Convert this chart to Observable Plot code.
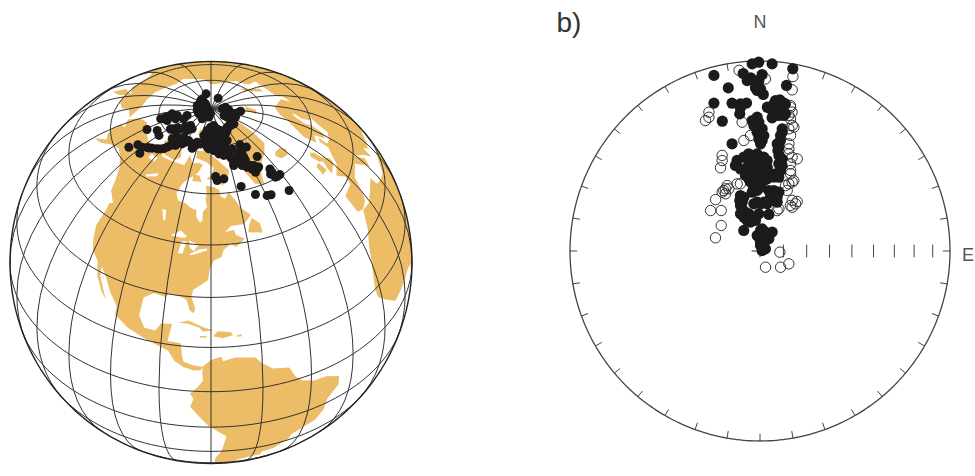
<!DOCTYPE html><html><head><meta charset="utf-8">
<style>html,body{margin:0;background:#fff;overflow:hidden}#chart{position:relative;width:975px;height:476px}#chart svg{position:absolute;top:0;background:transparent;max-width:none}</style>
<script src="https://cdn.jsdelivr.net/npm/d3@7"></script>
<script src="https://cdn.jsdelivr.net/npm/@observablehq/plot@0.6"></script>
</head><body><div id="chart"></div>
<script>
// ---- land outlines [lon, lat] ----
const northAmerica=[[-168,65.6],[-166,68.3],[-162,70.3],[-156.5,71.3],[-150,70.5],[-141,69.7],[-135,69],[-128,70],[-120,69.5],[-115,68],[-108,68],[-100,68],[-96,68],[-94,71.5],[-90,69],[-85,69.5],[-81.5,69],[-84,66.5],[-87,65],[-90,64],[-93,62],[-94.5,59],[-92.5,57],[-88,56.5],[-85,55.3],[-82.3,55],[-82,52.9],[-80,51.3],[-79,52],[-79,54.5],[-77,56],[-78,58.5],[-77.5,60],[-78,62.4],[-73,62],[-70,61],[-69.5,59],[-67,58.3],[-65,60.3],[-62,57.5],[-60,55],[-56,52.5],[-58,51.4],[-60,50.2],[-66,50.2],[-69,48.5],[-65,49],[-64.5,47.5],[-61,46],[-65,44],[-67,45],[-70,43.5],[-71,41.5],[-74,40.5],[-75.5,38],[-76,35],[-78,33.8],[-81,32],[-81.5,30],[-80,26.5],[-80.5,25.2],[-81.8,26],[-83,29],[-85,29.7],[-89,30.2],[-90,29],[-94,29.5],[-97.2,27.5],[-97.7,22],[-95.5,18.7],[-92,18.6],[-90.5,21],[-87,21.5],[-88,16],[-84,15.8],[-83.5,12],[-83,10],[-80,9],[-77.5,8.7],[-78,7.5],[-80,7.3],[-83,8.3],[-85.7,10],[-87.6,13],[-92,14.5],[-96,15.8],[-101,17.5],[-105.5,20],[-105.5,22.5],[-109,26],[-112.5,30],[-114.7,31.7],[-114,29],[-111,25],[-109.5,23],[-112,25],[-115,28.5],[-117,32.5],[-120.5,34.5],[-122.5,37.5],[-124.2,41],[-124,46],[-124.5,48.4],[-123,49],[-128,51.5],[-130,54.5],[-134,58],[-140,60],[-146,61],[-152,59.5],[-158,56.5],[-164,54.6],[-158,58.5],[-162,59],[-165,61],[-165,63.5],[-161,64.5]];
const southAmerica=[[-77.5,8.7],[-75,11],[-72,12],[-71.5,10.5],[-68,11.5],[-62,10.7],[-60,8.5],[-57,6],[-52,5],[-50,1],[-48,-1],[-44,-2.7],[-40,-3],[-35.2,-5.5],[-35,-9],[-38.5,-13],[-39,-18],[-41,-22],[-45,-24],[-48.5,-26],[-49,-29],[-53,-34],[-57,-35],[-57,-38],[-62,-39],[-65,-41],[-65,-45],[-68,-50],[-68.5,-53],[-65,-55],[-72,-54.5],[-75,-50],[-73.5,-42],[-73.5,-37],[-71.5,-30],[-70.3,-20],[-76,-14],[-81,-6],[-80,-3],[-81,-1],[-78.5,2],[-77.3,4],[-77.5,7]];
const africa=[[-6,35.8],[-1,35.2],[10,37.3],[11,34],[15,32.5],[20,31],[25,32],[32,31],[34.5,28],[37,21],[39,15],[43,12],[51,12],[48,5],[42,-2],[39,-6],[40.5,-15],[35,-24],[32,-29],[26,-34],[20,-34.8],[18,-33],[15,-27],[12,-17],[13.5,-9],[9,-1],[9.5,4],[5,6],[-4,5],[-8,4.5],[-13,8.5],[-16.8,12],[-17.3,15],[-16,20],[-13,27],[-9.5,31]];
const eurasia=[[-9,37],[-9,43],[-2,43.5],[-1,46],[-4.5,48.5],[1.5,50],[4,52],[8,54],[8.2,57],[10.5,57.5],[10,54.5],[14,54],[19,54.5],[21,57],[24,59.3],[30,60],[23,60],[21.5,63],[25,65.5],[22,65.5],[17.5,62],[18.5,60],[16,56],[13,55.5],[11,59],[6,58],[5,62],[13,67],[20,70],[28,71],[40,67.5],[38,64.5],[44,66],[44,68],[54,69],[60,69],[68,68.5],[67,72],[73,73],[80,73],[87,75],[100,77.5],[105,77.5],[113,74],[130,71],[140,72.5],[160,70],[170,69.5],[180,69],[-170,66],[180,65],[178,62.5],[170,60],[163,60],[162,57],[156,51],[156,57],[163,62],[155,59],[142,59],[135,54.5],[140,50],[130,42],[122,35],[120,25],[100,10],[80,8],[60,25],[50,30],[36,36],[27,37],[24,40],[23,36.5],[20,40],[13,45.5],[18,40],[16,38],[10,44],[3,43],[0,39],[-2,36.7],[-6,36]];
const greenland=[[-73,78.2],[-68,76],[-58,75.5],[-54,70],[-51,65],[-48,61],[-43,60],[-40,65],[-30,68],[-22,70.5],[-20,75],[-18,80],[-30,83.5],[-45,82.5],[-60,82],[-66,80.8]];
const baffin=[[-80,73.5],[-72,71.5],[-68,70],[-62,67],[-64,63.5],[-68,62.5],[-72,64],[-78,64.5],[-74,66],[-73,68],[-79,70],[-88,71],[-89,73.5]];
const victoria=[[-117,69],[-105,68.5],[-101,70],[-105,73],[-115,73],[-118,71]];
const banks=[[-125,72],[-118,72],[-116,74],[-122,74.5]];
const ellesmere=[[-90,76.5],[-78,76.5],[-76,78.5],[-65,81.5],[-63,82.5],[-75,83],[-90,81.8],[-85,79]];
const devon=[[-92,74.5],[-80,74.5],[-82,76],[-92,76.5]];
const axelHeiberg=[[-95,79],[-87,79],[-88,81],[-95,81]];
const melville=[[-117,75],[-106,75],[-106,76.5],[-116,76.5]];
const southampton=[[-87,63.5],[-81,63.5],[-83,65.5],[-87,65.5]];
const newfoundland=[[-59,47.7],[-53,46.7],[-53,49.5],[-56,51.5],[-58,49.5]];
const iceland=[[-24,65.5],[-22,64],[-16,63.5],[-13.5,65],[-16,66.5],[-22,66.5]];
const britain=[[-5.5,50],[1,51.2],[1.5,52.8],[-1.5,55],[-2,57.5],[-3.5,58.6],[-6,58],[-5,55],[-3,54],[-5,52]];
const ireland=[[-10,52],[-6,52],[-6,55],[-9,55]];
const svalbard=[[12,77],[20,77],[27,80],[15,80]];
const novayaZemlya=[[52,71],[57,71],[68,76.5],[60,76]];
const cuba=[[-85,22],[-82,23],[-77,21],[-74.2,20.2],[-77.5,19.9],[-78.5,21],[-82,22]];
const hispaniola=[[-74.4,18.5],[-73,20],[-69,19.6],[-68.4,18.5],[-71.5,17.8]];
const puertoRico=[[-67.2,18],[-65.7,18],[-65.7,18.5],[-67.2,18.5]];
const jamaica=[[-78.3,18],[-76.3,18],[-76.3,18.5],[-78.3,18.5]];
// ---- lakes ----
const superior=[[-92,46.7],[-88,48.5],[-85,47],[-87,46.5]];
const michigan=[[-87.8,42],[-86,42],[-85,45.7],[-87,45.5]];
const huron=[[-84,46],[-80,45],[-81.7,43],[-83.5,44]];
const erieOntario=[[-83,41.7],[-79,42.8],[-76.5,43.5],[-76.5,44],[-79.5,43.7],[-83,42.2]];
const winnipeg=[[-99,53.5],[-97,53.5],[-96,50.5],[-97,50.5]];
const greatBear=[[-124,67],[-118,67],[-118,65.5],[-124,65.5]];
const greatSlave=[[-117,61],[-110,63],[-110,62],[-116,60.5]];
// ---- virtual geomagnetic poles [lon, lat] ----
const poles=[[116.1,82.8],[82.3,84.7],[153.9,86.7],[-164.2,87],[-120.1,87.8],[-132.9,85.9],[-104.2,85.8],[-110.6,88.9],[25.8,85.8],[-1.6,85.2],[8.2,82],[-9.7,82.3],[-22.9,82.3],[-23.1,85.3],[-154.1,76.2],[-159.6,78.8],[-146.5,79.3],[-154.4,77.7],[-144.5,82.7],[-138.9,81.3],[-148.4,70.6],[-141.2,73],[-134.4,72.5],[-133.5,76.3],[-128.8,78],[-121.4,79.9],[-108.8,80.3],[-141.8,63.6],[-138.9,66.1],[-131.6,64.9],[-131.3,67.6],[-127.7,68.4],[-123.9,69.2],[-119.3,70.4],[-116.3,72.2],[-116,74.4],[-107.1,74.3],[-118.1,75.7],[-104.9,75.2],[-94.8,73.9],[-91.9,76.3],[-83.9,76.6],[-77.3,74.4],[-72.1,73.8],[-78.5,79.8],[-69.8,81],[-66.2,78.5],[-73.5,77.4],[-63.8,76],[-57.8,71],[-47.2,80.1],[-35.4,81.2],[-63.6,73.6],[-59.7,72.3],[-53.2,73.5],[-43.4,74.1],[-39.1,72.5],[-49.3,71.4],[-46.7,69.8],[-53.3,69.4],[-57.3,68.1],[-51.1,67.5],[-45.2,66.7],[-36.4,68.4],[-44.4,64.2],[-40.4,65.3],[-34.3,63.3],[-36,61.9],[-34.5,60.4],[-31.1,60.4],[-71.9,65.3],[-71,64],[-66.5,64.4],[-56.8,61.3],[-50.4,57.9],[-44.6,56.5],[-42.4,56.3],[-32.2,55.1],
[143.2,85.2],[173.8,85.8],[-154.8,86],[-128.6,86.3],[-105.3,85],[165.5,88.7],[-78.5,87.7],[141,87.3],[-162.4,88],[-84.5,86.3],[133.8,84.8],[11.5,84.9],[14.4,86.8],[-22.1,84.2],[-1.1,83.2],[12.1,81.5],[-29.3,82.2],[-27.5,81.1],[-43.3,81.2],[-52.5,79.1],[-82,81],[-76.1,82.3],[-68.4,82.9],[-63,81.5],[-58,80.7],[-85.8,79],[-80.2,77.9],[-70.7,79.2],[-67.3,76.7],[-62.2,77.7],[-75.6,75.6],[-69.9,75.6],[-59.3,76.4],[-54.5,76.7],[-56.4,80],[-59.3,74.6],[-57.1,73.2],[-63.2,71.9],[-67.5,72.6],[-71.9,75],[-155.8,75.3],[-156.2,76.8],[-156.8,78.3],[-154.9,79.2],[-152.9,80.1],[-149.2,76.9],[-132.1,76.7],[-128.3,76.7],[-123.8,78.4],[-113.6,79.1],[-116.1,81.1],[-134.6,66.6],[-129.8,67.8],[-121.5,69.7],[-117.8,71.3],[-120.5,74.3],[-112.1,73],[-114.3,75.4],[-110.6,76.6],[-102.4,76.1],[-96.8,75.4],[-92.4,75.1],[-87.4,75.9],[-79.2,75],[-114.7,73.2],[-53.5,70.6],[-46.3,72.2],[-46.5,71],[-46.8,68.7],[-51.2,68.6],[-56.4,69.2],[-48.1,66.5],[-45.4,65.5],[-42.1,65],[-43,66.3],[-34.4,62.1],[-34.8,61.1],[-33.3,60.3]];
// ---- directions [declination, inclination] ----
const lowerHemisphere=[[359.6,0.7],[357.6,1.6],[3.7,1.5],[10.2,2.9],[345.3,5],[354.6,6.9],[356.9,9.6],[0.7,7.9],[359,13],[1.2,18.7],[349,13.6],[9.1,12.8],[342.7,19.6],[349.3,21.9],[354.8,22.9],[352.2,24.9],[351.6,27.9],[343.8,29.6],[7.5,20.9],[5.4,23.3],[4.2,25.9],[8.3,26.2],[5.2,30.3],[358.8,30.2],[356.6,31.8],[10,28.4],[358.7,35.1],[0.2,38.3],[1.1,41.4],[345.4,41.3],[10.6,36.5],[10.5,40.6],[10.3,43.8],[11.2,47.5],[12.2,51.2],[14.3,54],[11.4,55.9],[353.4,47.3],[358.3,47.6],[2.3,49.1],[345.8,49.3],[344,51.3],[346.6,53.4],[352.7,51.8],[358.1,52.1],[4.9,53.5],[354.2,56.4],[0.4,56.6],[7.7,56.3],[352.1,60],[357.6,61],[3.1,59.5],[357.3,63.9],[12.9,63.3],[17.8,63.4],[11,66.4],[19.4,67.8],[356.7,69],[4.5,69],[340.6,64.7],[339.9,67.7],[337.1,70.4],[334.5,74],[349.7,75.3],[341.8,77],[13.6,73.9],[321.7,78.8],[5.6,80.5],[32.9,80.4],[355.2,84.1],[36,83.6],[28.1,86.5],[77,89.1],
[350.2,48.5],[355.1,49.7],[0.3,50.6],[356,52],[351.1,53.9],[356.9,54.3],[2.7,55.1],[4.5,50.5],[349.1,56.7],[351.2,58.5],[356.4,58.8],[1.7,58.1],[5.7,58.7],[354.5,62.4],[0.4,62.5],[352.4,64.5],[10.3,35],[10.1,38.2],[9.1,42.4],[10.1,45.3],[13.5,48.7],[14.5,51.6],[10.6,57.5],[14.3,57.1],[357.2,34.2],[359.5,32.7],[1,35.9],[358.6,37.5],[1.9,39.1],[359.4,40.7],[0.3,43],[5.9,21.5],[8.5,21.9],[9.8,22.5],[2.9,25.2],[6.3,26.5],[10.5,27.4],[7.9,28.8],[338.2,66.6],[343.3,65.9],[336.8,68.8],[339.5,72.3],[343.3,73.4],[332.3,72],[337.2,75.9],[351.6,76.8],[358.2,74.1],[8.3,63.7],[13.5,67.7],[8.6,69.5],[0.6,69.8],[352.6,69.6],[17.7,65.7],[14,65.4],[1.4,81.2],[16.3,81.6],[349.6,83.3],[15.5,83.9],[3.2,86.2],[68.5,87.5],[5.2,87.6],[355.7,11],[359.6,11.2],[357.9,11.2],[0.2,15.8],[358.4,15.2],[359,16.6],[352.5,22.9]];
const upperHemisphere=[[353.4,4.8],[1.8,10.3],[10.7,7.3],[11.3,14.6],[11.8,22.8],[13,25.9],[13,29.4],[339.8,23.2],[339.1,25.6],[337.3,26.5],[352.1,32.1],[15.3,32.9],[14.8,37.2],[351.7,40.9],[355.3,38.9],[15.1,41.2],[338.4,45],[337.3,47.2],[334.6,49.9],[16.5,45.7],[22,46.6],[19.3,49.8],[20.8,52.6],[25,57.1],[24.2,61.4],[333.4,58.4],[341.2,59.4],[327.3,59.8],[328.9,61.2],[319.2,60.7],[309.3,62.5],[316.2,65.9],[303.3,70.1],[286.5,70.1],[33.8,66.5],[36.9,63.4],[24.1,70.2],[93.4,81.5],[114,76.5],[161.2,82.7],[128.3,78.8],
[329.1,59.6],[333.4,60],[331,59.3],[343.8,59.8],[15.8,43.5],[21.6,54],[23.2,58.4],[21.3,59.7],[25.6,56.2],[32.5,64.2],[37,64.6],[36.3,66.7],[23,71.2],[13.3,34.3],[14.4,32.3],[12,23.7],[12,27.9],[18.9,46.7]];
const declinationTicks=[0,10,20,30,40,50,60,70,80,90,100,110,120,130,140,150,160,170,180,190,200,210,220,230,240,250,260,270,280,290,300,310,320,330,340,350];
const inclinationTicks=[10,20,30,40,50,60,70,80,90];
const gridStep=15;

const polygon=r=>{const p={type:"Polygon",coordinates:[[...r,r[0]]]};if(d3.geoArea(p)>2*Math.PI)p.coordinates[0].reverse();return p};
const collection=a=>({type:"FeatureCollection",features:a.map(r=>({type:"Feature",geometry:polygon(r),properties:{}}))});
const land=collection([northAmerica,southAmerica,africa,eurasia,greenland,baffin,victoria,banks,ellesmere,devon,axelHeiberg,melville,southampton,newfoundland,iceland,britain,ireland,svalbard,novayaZemlya,cuba,hispaniola,puertoRico,jamaica]);
const lakes=collection([superior,michigan,huron,erieOntario,winnipeg,greatBear,greatSlave]);
const graticule=d3.geoGraticule().extent([[-180,-90],[180,90.001]]).step([gridStep,gridStep])();

const globe=Plot.plot({
  width:430,height:476,margin:0,
  projection:d3.geoOrthographic().rotate([75,-40]).translate([210.5,262]).scale(201).clipAngle(90).precision(.3),
  marks:[
    Plot.geo(land,{fill:"#ecbc66",stroke:"none"}),
    Plot.geo(lakes,{fill:"#fff",stroke:"none"}),
    Plot.geo(graticule,{stroke:"#333",strokeWidth:1,fill:"none"}),
    Plot.geo({type:"Sphere"},{stroke:"#222",strokeWidth:1.4,fill:"none"}),
    Plot.dot(poles,{x:d=>d[0],y:d=>d[1],r:4.5,fill:"#1c1a1a",stroke:"none"})
  ]
});
globe.style.left="0";

const rimTicks={type:"MultiLineString",coordinates:declinationTicks.map(d=>[[d,0],[d,-4]])};
const bar={draw(c,l){c.moveTo(0,0);c.lineTo(0,-l)}};
const axisPoints=inclinationTicks.map(i=>({dec:90,inc:i}));
const net=Plot.plot({
  width:545,height:476,margin:0,
  projection:d3.geoAzimuthalEqualArea().rotate([0,90]).translate([329.5,250.5]).scale(190/Math.SQRT2).precision(.2),
  marks:[
    Plot.geo(d3.geoCircle().center([0,-90]).radius(90).precision(1)(),{stroke:"#444",strokeWidth:1.3,fill:"none"}),
    Plot.geo(rimTicks,{stroke:"#444",strokeWidth:1,fill:"none"}),
    Plot.vector(axisPoints,{x:"dec",y:d=>-d.inc,length:12,rotate:0,anchor:"middle",shape:bar,stroke:"#444",strokeWidth:1}),
    Plot.vector([{dec:0,inc:90}],{x:"dec",y:d=>-d.inc,length:16,rotate:90,anchor:"middle",shape:bar,stroke:"#222",strokeWidth:1}),
    Plot.dot(upperHemisphere,{x:d=>d[0],y:d=>-d[1],r:5.2,fill:"none",stroke:"#333",strokeWidth:1}),
    Plot.dot(lowerHemisphere,{x:d=>d[0],y:d=>-d[1],r:5.6,fill:"#1c1a1a",stroke:"none"}),
    Plot.text(["N"],{x:()=>0,y:()=>0,dy:-39,fontSize:18,fontFamily:"Liberation Sans",fill:"#555"}),
    Plot.text(["E"],{x:()=>90,y:()=>0,dx:24,dy:4,textAnchor:"end",fontSize:18,fontFamily:"Liberation Sans",fill:"#555"}),
    Plot.text(["b)"],{frameAnchor:"top-left",dx:126,dy:12,fontSize:28,fontFamily:"Liberation Sans",fill:"#333",textAnchor:"start"})
  ]
});
net.style.left="430px";
document.getElementById("chart").append(globe,net);
</script></body></html>
